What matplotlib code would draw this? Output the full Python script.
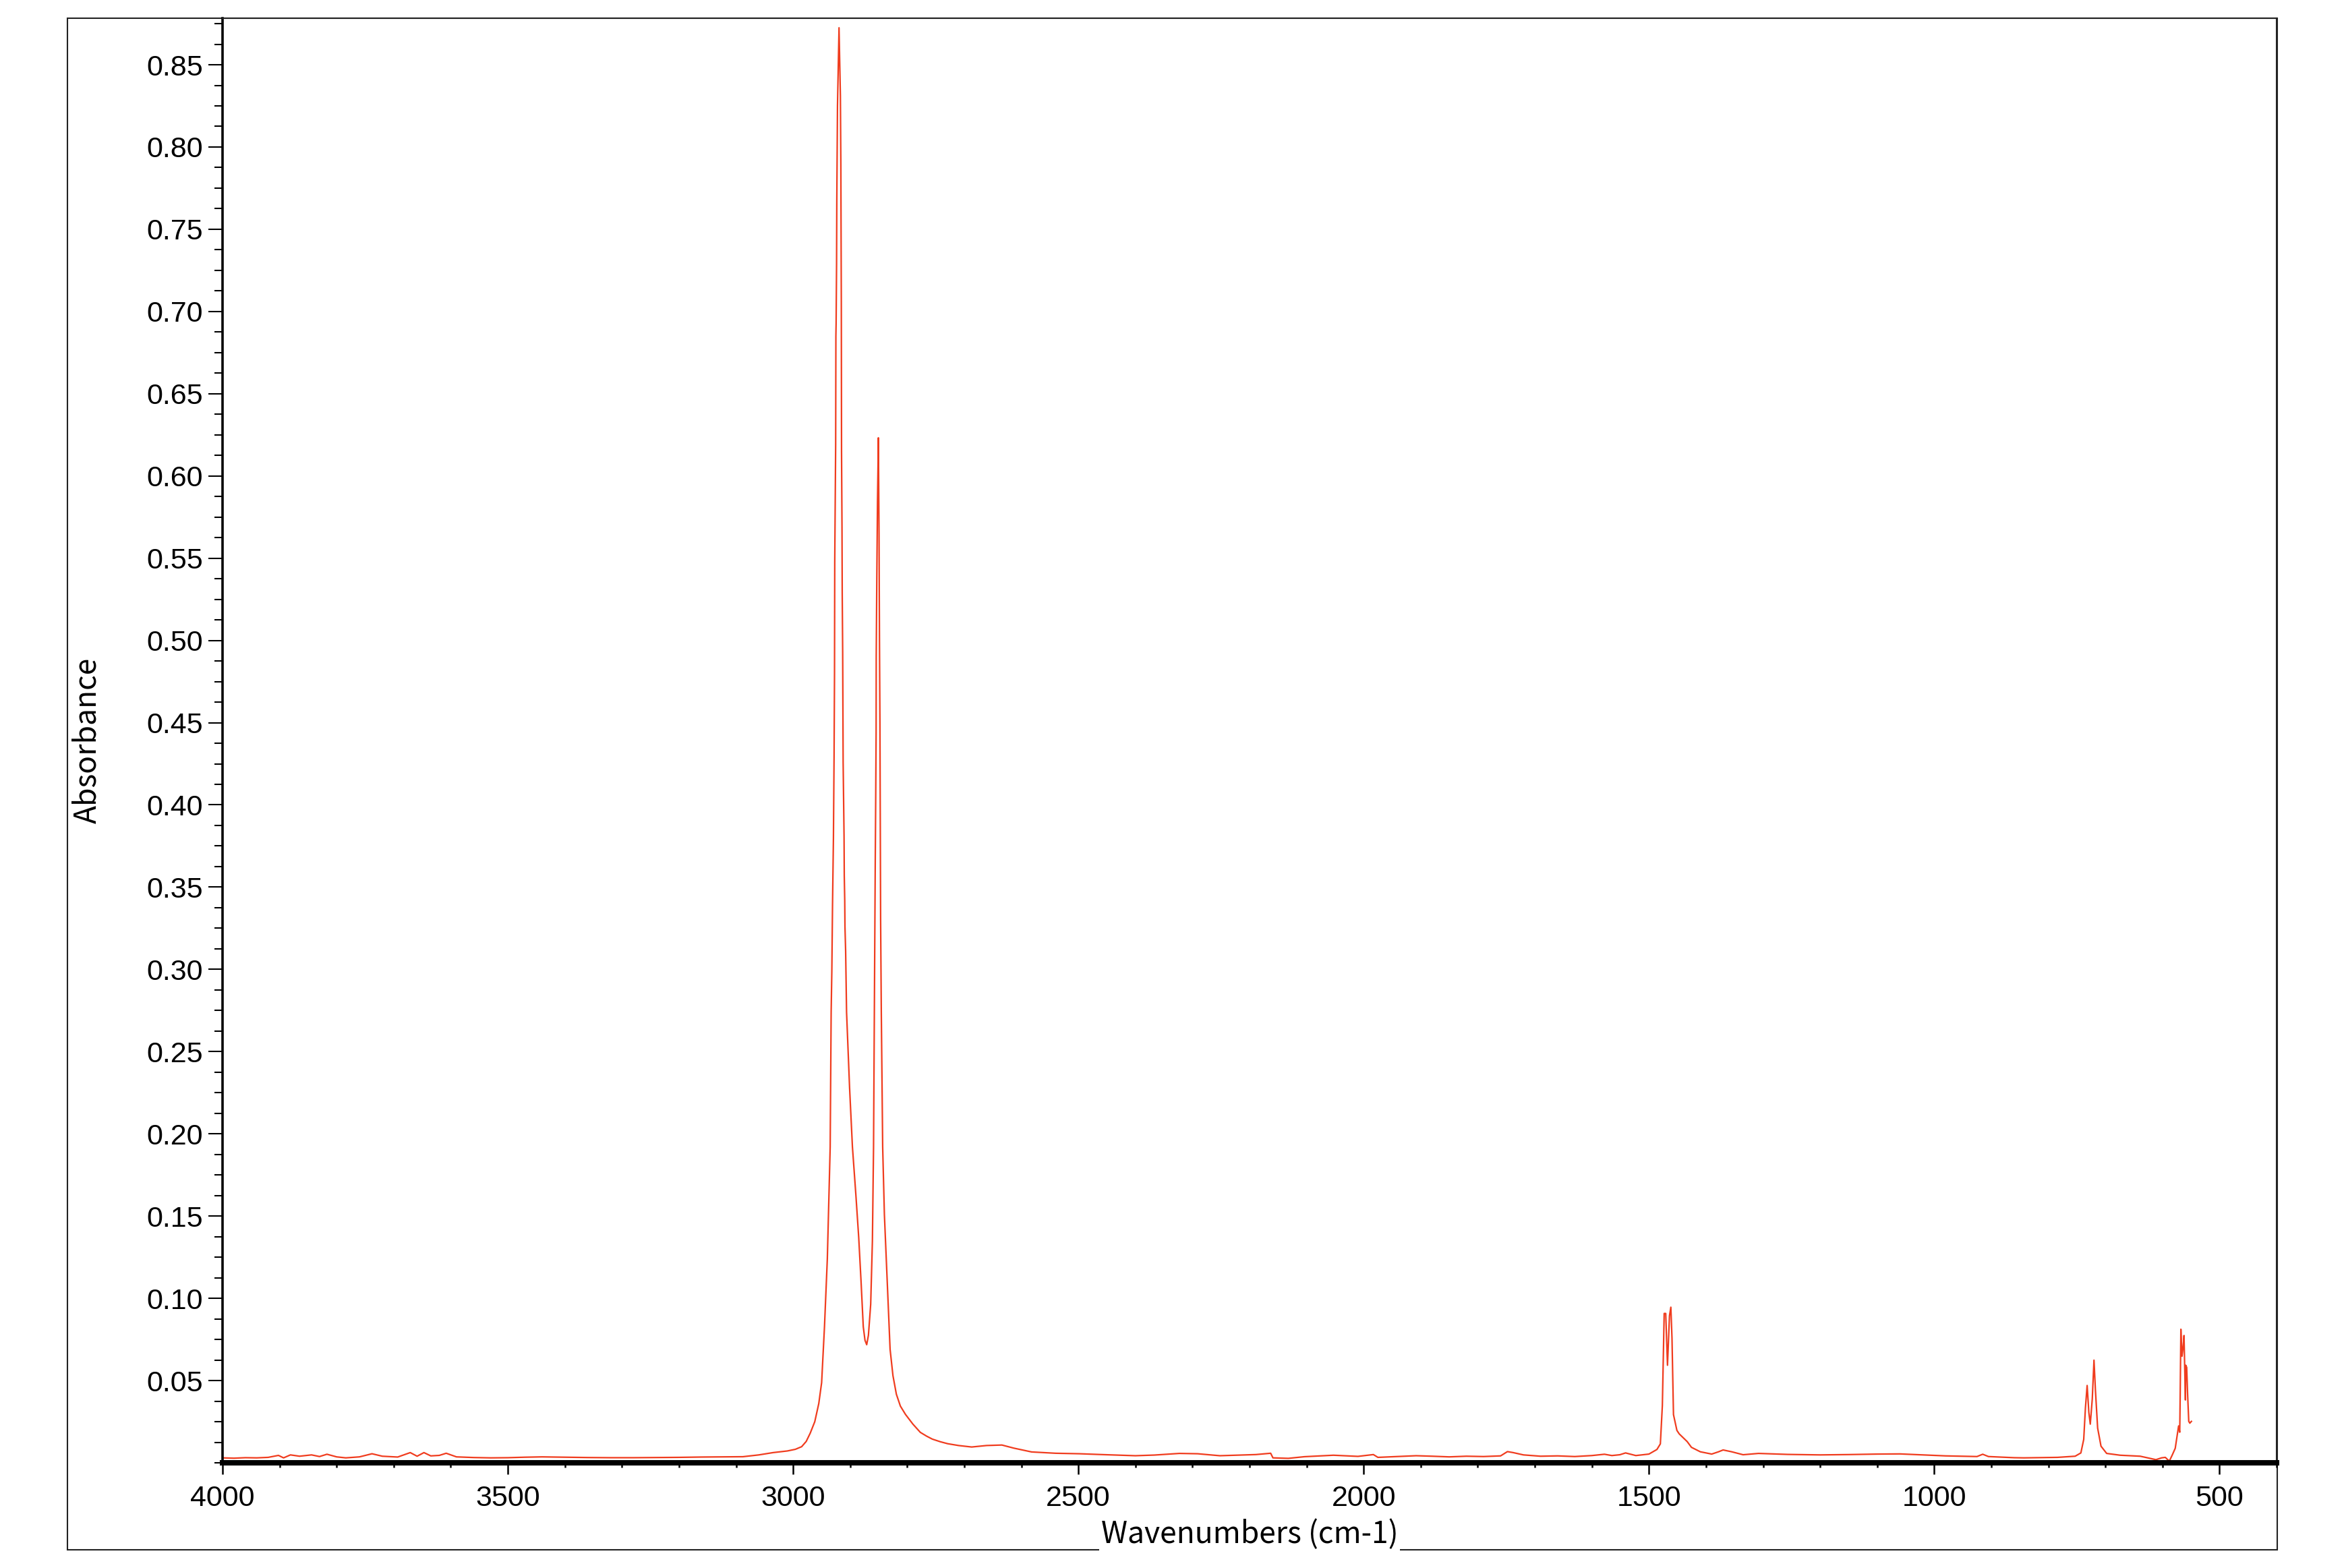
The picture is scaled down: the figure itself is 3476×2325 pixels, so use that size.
import matplotlib
matplotlib.use('Agg')
import matplotlib.pyplot as plt
from matplotlib.patches import Rectangle
from matplotlib.ticker import FixedLocator, MultipleLocator, FormatStrFormatter
import numpy as np

W, H = 3476, 2325

# spectrum: wavenumber (cm-1) and absorbance
wavenumber = [
    4000, 3980, 3960, 3940, 3920, 3902, 3893, 3881, 3865, 3844, 3830, 3817,
    3800, 3784, 3760, 3738, 3720, 3693, 3671, 3659, 3647, 3635, 3620, 3608,
    3590, 3560, 3530, 3500, 3470, 3440, 3400, 3360, 3320, 3280, 3240, 3200,
    3160, 3120, 3088, 3060, 3035, 3010, 2996, 2985, 2977, 2970, 2962, 2955,
    2950, 2945, 2940, 2935,
    2933.3, 2932.1, 2930.9, 2929.3, 2928.2, 2927.4, 2927.0, 2926.2, 2925.4,
    2925.0, 2924.6, 2923.8, 2923.4, 2922.6, 2922.2, 2919.5, 2917.1, 2916.3,
    2915.9, 2915.5, 2915.1, 2914.3, 2913.9, 2913.1, 2912.3, 2911.5, 2910.7,
    2910.3, 2909.5, 2909.1, 2907.9, 2907.1, 2906.3, 2901, 2896, 2890, 2885,
    2881, 2877, 2874, 2871, 2868, 2864, 2861,
    2859, 2857.6, 2856.8, 2856.0, 2855.2, 2854.5, 2854.3, 2853.3,
    2852.1, 2850.5, 2849.4, 2848.6, 2847.8, 2847.0, 2846.6, 2845.8, 2845.4,
    2843, 2840, 2835, 2830, 2825, 2819, 2812, 2803, 2790, 2777, 2766, 2756,
    2742, 2729, 2710, 2687, 2661, 2634,
    2613, 2582, 2540, 2498, 2459, 2400, 2367, 2323, 2291, 2252, 2189, 2163,
    2159, 2132, 2104, 2053, 2010, 1983, 1975, 1908, 1880, 1850, 1820, 1790,
    1760, 1748, 1738, 1720, 1690, 1660, 1630, 1600, 1578, 1565, 1551, 1541,
    1523, 1500, 1486, 1480, 1476.5, 1473.3, 1470.6, 1467.5, 1464, 1461.6,
    1459.6, 1457, 1451, 1447, 1433, 1425.5, 1410, 1390, 1378, 1370, 1355,
    1335, 1308, 1257, 1200, 1150, 1100, 1060, 1020, 980, 950, 925, 915, 905,
    880, 860, 843, 784, 753, 743, 738, 735, 732, 729, 726.5, 723, 720, 717.5,
    713.6, 707.7, 697.8, 674, 639, 611.4, 601.6, 595, 588, 583, 577.6, 571.7,
    569.7, 568.9, 567.7, 565.7, 563.8, 562.2, 560.6, 559.8, 559.1, 557.5,
    555.9, 553.9, 552, 549.2,
]
absorbance = [
    0.0030, 0.0028, 0.0031, 0.0030, 0.0033, 0.0045, 0.0030, 0.0048, 0.0040,
    0.0048, 0.0038, 0.0052, 0.0036, 0.0030, 0.0036, 0.0055, 0.0040, 0.0035,
    0.0062, 0.0040, 0.0062, 0.0042, 0.0045, 0.0058, 0.0036, 0.0032, 0.0030,
    0.0031, 0.0034, 0.0036, 0.0034, 0.0032, 0.0031, 0.0031, 0.0032, 0.0033,
    0.0035, 0.0036, 0.0037, 0.0048, 0.0062, 0.0072, 0.0082, 0.0098, 0.013,
    0.018, 0.025, 0.036, 0.0487, 0.0827, 0.124, 0.192,
    0.274, 0.299, 0.339, 0.380, 0.429, 0.480, 0.548, 0.582,
    0.619, 0.685, 0.693, 0.729, 0.767, 0.802, 0.825, 0.8725, 0.831, 0.789,
    0.748, 0.706, 0.615, 0.569, 0.529, 0.493, 0.426, 0.403, 0.381, 0.357,
    0.342, 0.326, 0.311, 0.291, 0.274, 0.228, 0.192, 0.163, 0.137,
    0.111, 0.0827, 0.0745, 0.0718, 0.0775, 0.0964, 0.135,
    0.192, 0.274, 0.326, 0.366, 0.404, 0.444, 0.490, 0.537, 0.584, 0.6232,
    0.565, 0.500, 0.450, 0.377, 0.330, 0.295, 0.274, 0.192, 0.151, 0.110,
    0.069, 0.053, 0.0417, 0.0345, 0.0294, 0.0235, 0.0185, 0.0162, 0.0144,
    0.0128, 0.0116, 0.0105, 0.0096, 0.0105, 0.0108,
    0.0089, 0.0066, 0.0058, 0.0055, 0.0050, 0.0043, 0.0047, 0.0057, 0.0055,
    0.0043, 0.0050, 0.0058, 0.0030, 0.0027, 0.0037, 0.0046, 0.0039, 0.0050,
    0.0033, 0.0043, 0.0040, 0.0036, 0.0040, 0.0038, 0.0042, 0.0068, 0.0062,
    0.0048, 0.0040, 0.0042, 0.0038, 0.0044, 0.0052, 0.0044, 0.0049, 0.0060,
    0.0044, 0.0053, 0.0081, 0.0115, 0.0347, 0.0908, 0.0908, 0.0593, 0.0894,
    0.0946, 0.0758, 0.0293, 0.0197, 0.0176, 0.0129, 0.0094, 0.0067, 0.0053,
    0.0067, 0.0078, 0.0067, 0.0049, 0.0057, 0.0051, 0.0048, 0.0050, 0.0053,
    0.0054, 0.0048, 0.0042, 0.0040, 0.0038, 0.0052, 0.0038, 0.0034, 0.0031,
    0.0030, 0.0033, 0.0040, 0.0060, 0.0142, 0.0334, 0.047, 0.0306, 0.0235,
    0.0388, 0.0624, 0.0443, 0.0211, 0.0101, 0.0057, 0.0046, 0.0040, 0.0019,
    0.0030, 0.0033, 0.0010, 0.0046, 0.0088, 0.0224, 0.0186, 0.0416, 0.0812,
    0.0648, 0.0703, 0.0774, 0.0511, 0.0382, 0.0593, 0.058, 0.0416, 0.0252,
    0.0241, 0.0252,
]

y_ticks = [0.05, 0.10, 0.15, 0.20, 0.25, 0.30, 0.35, 0.40, 0.45,
           0.50, 0.55, 0.60, 0.65, 0.70, 0.75, 0.80, 0.85]
x_ticks = [4000, 3500, 3000, 2500, 2000, 1500, 1000, 500]

plt.rcParams['font.family'] = ['Liberation Sans', 'DejaVu Sans']

fig = plt.figure(figsize=(W / 100, H / 100), dpi=100)

# outer frame around the whole plot
frame = Rectangle((100 / W, 1 - 2298 / H), (3377 - 100) / W, (2298 - 27) / H,
                  transform=fig.transFigure, fill=False, edgecolor='#222222',
                  linewidth=1.5, zorder=-1)
fig.patches.append(frame)

ax = fig.add_axes([330 / W, 1 - 2169 / H, (3376 - 330) / W, (2169 - 27) / H])
ax.patch.set_visible(False)

ax.plot(wavenumber, absorbance, color='#F03C1E', linewidth=1.6)

ax.set_xlim(4000, 400)
ax.set_ylim(0, 0.8783)

ax.spines['left'].set_linewidth(2.6)
ax.spines['bottom'].set_linewidth(5.8)
ax.spines['top'].set_linewidth(1.5)
ax.spines['right'].set_linewidth(1.5)
for s in ax.spines.values():
    s.set_color('black')
ax.spines['top'].set_color('#222222')
ax.spines['right'].set_color('#222222')

ax.yaxis.set_major_locator(FixedLocator(y_ticks))
ax.yaxis.set_minor_locator(MultipleLocator(0.0125))
ax.yaxis.set_major_formatter(FormatStrFormatter('%.2f'))
ax.xaxis.set_major_locator(FixedLocator(x_ticks))
ax.xaxis.set_minor_locator(MultipleLocator(100))

ax.tick_params(axis='y', which='major', direction='out', length=15, width=1.5,
               labelsize=31, pad=6)
ax.tick_params(axis='y', which='minor', direction='out', length=9, width=1.5)
ax.tick_params(axis='x', which='major', direction='out', length=12, width=1.8,
               labelsize=31, pad=12)
ax.tick_params(axis='x', which='minor', direction='out', length=5, width=1.8)

lab_font = ['Noto Sans CJK JP', 'DejaVu Sans']
ax.set_xlabel('Wavenumbers (cm-1)', fontsize=32, family=lab_font, va='center',
              bbox=dict(boxstyle='square,pad=0.05', fc='white', ec='none'))
ax.xaxis.set_label_coords(0.5, (2169 - 2275) / (2169 - 27))
ax.set_ylabel('Absorbance', fontsize=32, family=lab_font, va='center')
ax.yaxis.set_label_coords((129 - 330) / (3376 - 330), 0.5)

fig.savefig('out.png', dpi=100)
